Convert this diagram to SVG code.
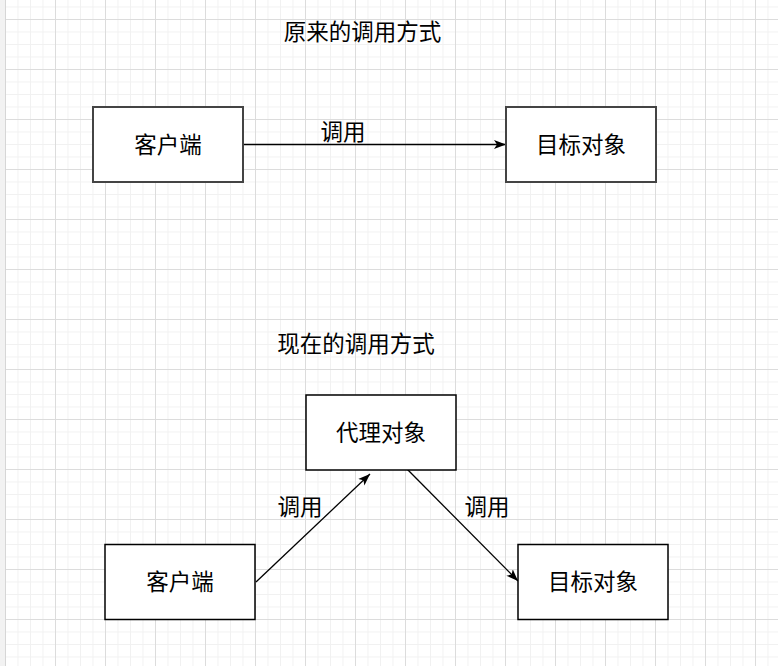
<svg xmlns="http://www.w3.org/2000/svg" width="778" height="666" viewBox="0 0 778 666">
  <defs>
    <pattern id="minor" patternUnits="userSpaceOnUse" x="5" y="19" width="12.5" height="12.5">
      <path d="M0,0.5 H12.5 M0.5,0 V12.5" stroke="#f1f1f1" stroke-width="1" fill="none"/>
    </pattern>
    <pattern id="major" patternUnits="userSpaceOnUse" x="5" y="19" width="50" height="50">
      <path d="M0,0.5 H50 M0.5,0 V50" stroke="#dcdcdc" stroke-width="1" fill="none"/>
    </pattern>
    <marker id="arrow" markerUnits="userSpaceOnUse" markerWidth="14" markerHeight="12" refX="12" refY="5" orient="auto" viewBox="0 0 14 10">
      <path d="M0,0.5 L12,5 L0,9.5 L3,5 Z" fill="#000"/>
    </marker>
    <style>
      text { font-family: "Noto Sans CJK SC", "Microsoft YaHei", sans-serif; font-size: 22.5px; fill: #000; text-anchor: middle; dominant-baseline: central; }
      .top { fill: #fff; stroke: #444; stroke-width: 2; }
      .bot { fill: #fff; stroke: #000; stroke-width: 1.5; }
      .conn { stroke: #000; stroke-width: 1.3; fill: none; marker-end: url(#arrow); }
    </style>
  </defs>

  <rect width="778" height="666" fill="#fff"/>
  <rect width="778" height="666" fill="url(#minor)"/>
  <rect width="778" height="666" fill="url(#major)"/>
  <rect x="0" y="0" width="5" height="666" fill="#f2f2f2"/>
  <line x1="5.5" y1="0" x2="5.5" y2="666" stroke="#d6d6d6"/>

  <g id="title1"><text x="362.5" y="30">原来的调用方式</text></g>
  <g id="title2"><text x="356" y="342">现在的调用方式</text></g>

  <g id="connectors">
    <line class="conn" x1="243" y1="144.5" x2="506" y2="144.5"/>
    <text x="343" y="130">调用</text>
    <line class="conn" x1="256" y1="582" x2="370" y2="474"/>
    <text x="300" y="505">调用</text>
    <line class="conn" x1="407" y1="469" x2="518" y2="581"/>
    <text x="487" y="505">调用</text>
  </g>

  <g id="client1">
    <rect class="top" x="93" y="107" width="150" height="75"/>
    <text x="168" y="142.5">客户端</text>
  </g>
  <g id="target1">
    <rect class="top" x="506" y="107" width="150" height="75"/>
    <text x="581" y="142.5">目标对象</text>
  </g>
  <g id="proxy">
    <rect class="bot" x="306" y="395" width="150" height="75"/>
    <text x="381" y="430.5">代理对象</text>
  </g>
  <g id="client2">
    <rect class="bot" x="105" y="544.5" width="150" height="75"/>
    <text x="180" y="580">客户端</text>
  </g>
  <g id="target2">
    <rect class="bot" x="518" y="544.5" width="150" height="75"/>
    <text x="593" y="580">目标对象</text>
  </g>
</svg>
